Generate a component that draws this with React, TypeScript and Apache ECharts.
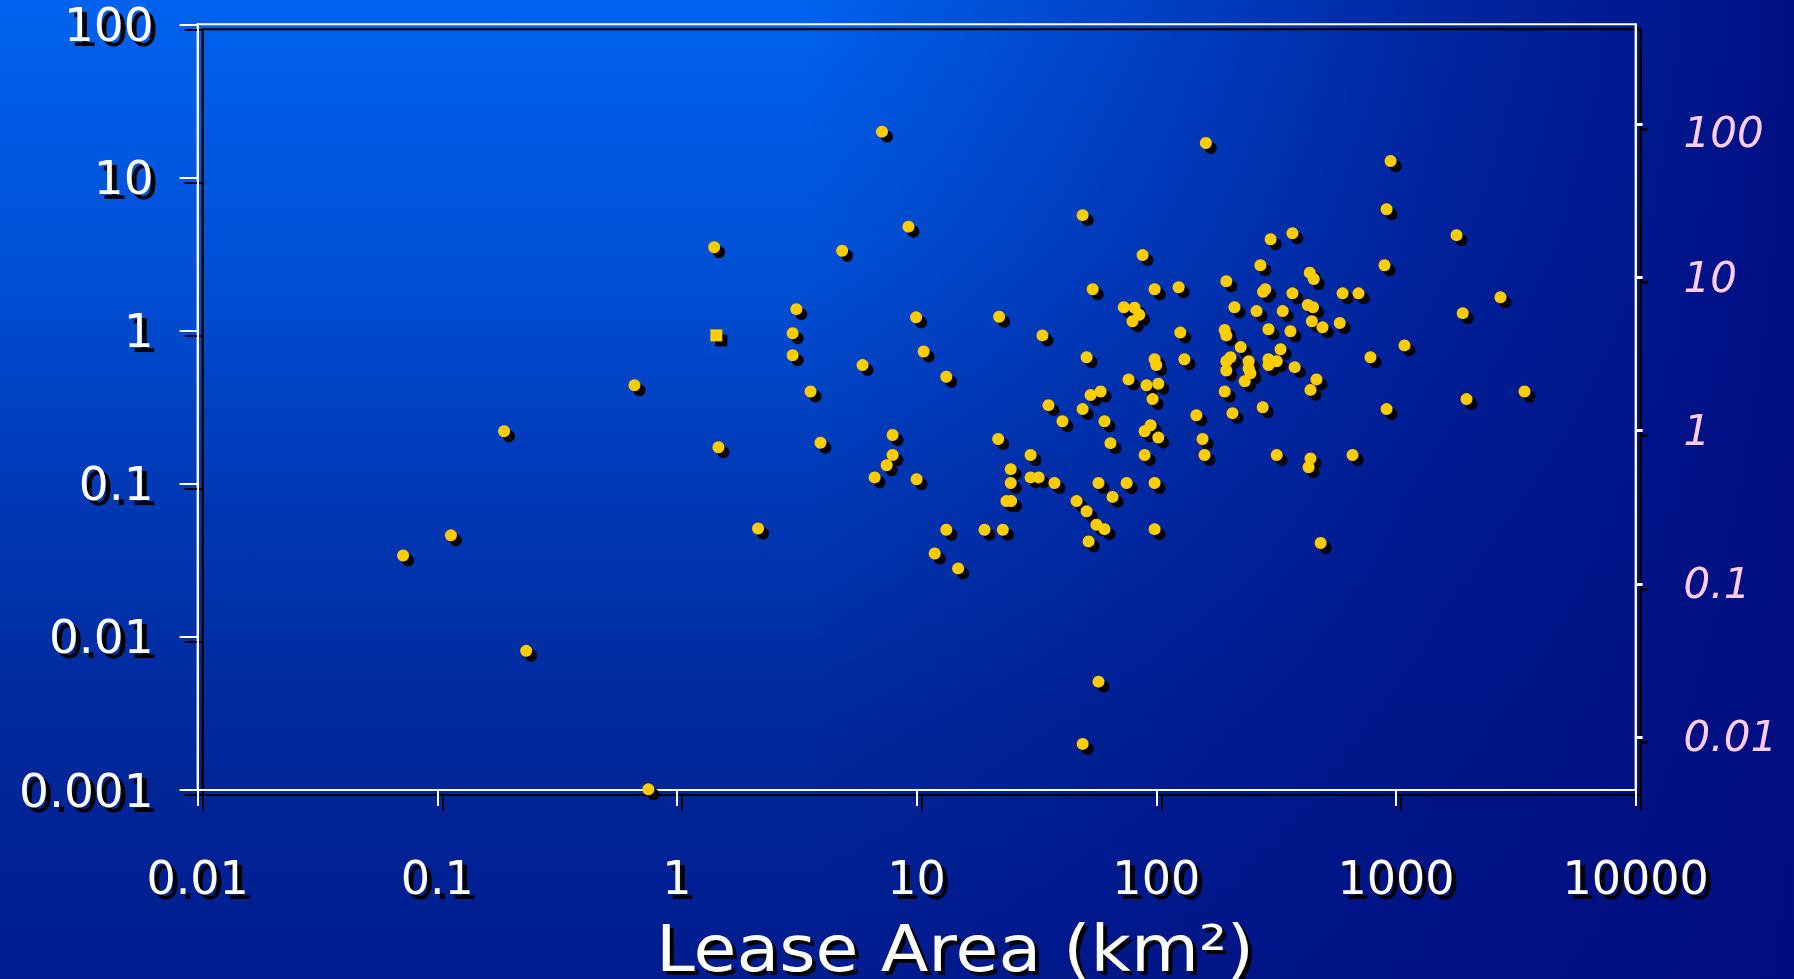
import React, { useEffect, useRef } from "react";
import * as echarts from "echarts";

// Lease area (km²) of each lease — x values
const leaseArea: number[] = [
  0.072, 0.114, 0.19, 0.235, 0.665, 0.76, 1.43, 1.49, 2.18, 3.15, 3.04, 3.04, 3.61, 3.97, 4.89, 5.95,
  6.68, 7.17, 7.5, 7.94, 7.94, 9.25, 9.95, 10.0, 10.7, 11.9, 13.3, 13.3, 14.9, 19.2, 22.1, 21.9, 22.9,
  950, 914, 49.3, 370, 300, 87.7, 272, 896, 437, 454, 196, 54.3, 98.4, 124, 285, 279, 370, 599, 698,
  212, 73.2, 81.2, 84.9, 79.6, 262, 337, 429, 451, 446, 494, 583, 33.5, 126, 193, 196, 294, 363, 225,
  330, 1086, 783, 51.2, 98.4, 100, 131, 196, 204, 196, 243, 243, 247, 234, 294, 294, 318, 378, 466,
  440, 76.6, 91.1, 102, 96.5, 53.2, 58.6, 193, 35.5, 49.3, 40.6, 60.8, 147, 208, 278, 914, 94.7, 89.4,
  102, 64.4, 156, 159, 89.4, 29.9, 318, 440, 432, 659, 24.7, 24.7, 29.9, 32.3, 37.6, 57.4, 75.2, 98.4,
  65.7, 23.7, 24.8, 46.5, 51.2, 56.3, 60.8, 98.4, 52.2, 485, 161, 57.4, 49.3,
  1790, 2730, 1900, 1970, 3440,
];

// Left-axis value of each lease — y values
const leftValue: number[] = [
  0.034, 0.046, 0.22, 0.0081, 0.44, 0.00101, 3.5, 0.173, 0.051, 1.38, 0.96, 0.69, 0.40, 0.185, 3.32, 0.595,
  0.110, 19.9, 0.132, 0.208, 0.154, 4.77, 1.22, 0.107, 0.73, 0.035, 0.50, 0.050, 0.028, 0.050, 1.23, 0.196, 0.050,
  12.8, 6.2, 5.67, 4.32, 3.95, 3.11, 2.67, 2.67, 2.39, 2.17, 2.10, 1.86, 1.86, 1.92, 1.86, 1.79, 1.75, 1.75, 1.75,
  1.42, 1.42, 1.41, 1.27, 1.15, 1.34, 1.34, 1.47, 1.42, 1.15, 1.05, 1.12, 0.93, 0.97, 1.01, 0.93, 1.02, 0.99, 0.78,
  0.756, 0.80, 0.67, 0.67, 0.65, 0.595, 0.65, 0.63, 0.67, 0.548, 0.63, 0.565, 0.527, 0.467, 0.65, 0.595, 0.63, 0.577, 0.48,
  0.41, 0.48, 0.44, 0.45, 0.357, 0.38, 0.40, 0.40, 0.326, 0.307, 0.256, 0.256, 0.28, 0.289, 0.316, 0.307, 0.241, 0.22,
  0.20, 0.184, 0.196, 0.154, 0.154, 0.154, 0.154, 0.146, 0.128, 0.154, 0.1245, 0.101, 0.110, 0.110, 0.101, 0.101, 0.101, 0.101,
  0.082, 0.077, 0.077, 0.077, 0.066, 0.054, 0.0505, 0.0505, 0.042, 0.041, 16.8, 0.0051, 0.0020,
  4.2, 1.65, 1.30, 0.357, 0.40,
];

// The single square marker
const squareArea: number[] = [1.46];
const squareValue: number[] = [0.93];

// Axis extents and tick labels
const xRange: number[] = [0.01, 10000];
const leftRange: number[] = [0.001, 100];
const rightRange: number[] = [0.0045, 450];
const rightTicks: number[] = [0.01, 0.1, 1, 10, 100];
const xTitle = "Lease Area (km²)";

const FONT = "'DejaVu Sans', Verdana, sans-serif";
const fmt = (v: number) => String(parseFloat(Number(v).toPrecision(6)));

export default function App() {
  const ref = useRef<HTMLDivElement>(null);

  useEffect(() => {
    if (!ref.current) return;
    const chart = echarts.init(ref.current, null, { renderer: "svg" });

    const pts = leaseArea.map((x, i) => [x, leftValue[i]]);
    const sq = squareArea.map((x, i) => [x, squareValue[i]]);

    const makeX = (gridIndex: number, color: string, z: number) => ({
      type: "log",
      gridIndex,
      min: xRange[0],
      max: xRange[1],
      z,
      axisLine: { show: true, lineStyle: { color, width: 2 } },
      axisTick: { show: true, length: 16, lineStyle: { color, width: 2 } },
      axisLabel: { color, fontSize: 46, fontFamily: FONT, margin: 65, formatter: fmt },
      splitLine: { show: false },
      minorTick: { show: false },
    });
    const makeLeft = (gridIndex: number, color: string, z: number) => ({
      type: "log",
      gridIndex,
      position: "left",
      min: leftRange[0],
      max: leftRange[1],
      z,
      axisLine: { show: true, lineStyle: { color, width: 2 } },
      axisTick: { show: true, length: 18, lineStyle: { color, width: 2 } },
      axisLabel: { color, fontSize: 47, fontFamily: FONT, margin: 44, formatter: fmt },
      splitLine: { show: false },
      minorTick: { show: false },
    });
    const rightLabelStyle = {
      color: "#FFCCEE",
      fontSize: 42,
      fontStyle: "italic",
      fontFamily: FONT,
      textShadowColor: "rgba(0,0,0,0.8)",
      textShadowOffsetX: 2,
      textShadowOffsetY: 2,
      textShadowBlur: 0,
    };
    const makeRight = (gridIndex: number, color: string, withLabels: boolean, z: number) => ({
      type: "log",
      gridIndex,
      position: "right",
      min: rightRange[0],
      max: rightRange[1],
      z,
      axisLine: { show: true, lineStyle: { color, width: 2 } },
      axisTick: { show: true, length: 7, customValues: rightTicks, lineStyle: { color, width: 3 } },
      axisLabel: withLabels
        ? {
            show: true,
            customValues: rightTicks,
            ...rightLabelStyle,
            margin: 48,
            formatter: (v: number) => (v >= 99 ? "{low|" + fmt(v) + "}" : fmt(v)),
            rich: { low: { ...rightLabelStyle, padding: [16, 0, 0, 0] } },
          }
        : { show: false },
      splitLine: { show: false },
      minorTick: { show: false },
    });

    const W = 1794;
    const H = 979;

    chart.setOption({
      animation: false,
      backgroundColor: "transparent",
      grid: [
        { left: 202.6, top: 29.3, right: 153.4, bottom: 184, show: true, borderColor: "#000", borderWidth: 2, backgroundColor: "transparent", outerBoundsMode: "none" },
        { left: 197.6, top: 24.3, right: 158.4, bottom: 189, show: true, borderColor: "#fff", borderWidth: 2, backgroundColor: "transparent", outerBoundsMode: "none" },
      ],
      xAxis: [makeX(0, "#000", 0), makeX(1, "#fff", 1)],
      yAxis: [
        makeLeft(0, "#000", 0),
        makeRight(0, "#000", false, 0),
        makeLeft(1, "#fff", 1),
        makeRight(1, "#fff", true, 1),
      ],
      graphic: [
        {
          type: "rect",
          z: -20,
          silent: true,
          shape: { x: 0, y: 0, width: W, height: H },
          style: {
            fill: {
              type: "linear", x: 0, y: 0, x2: 0, y2: 1,
              colorStops: [
                { offset: 0, color: "#0062EE" },
                { offset: 0.25, color: "#0052D8" },
                { offset: 0.5, color: "#0039B6" },
                { offset: 0.75, color: "#00289A" },
                { offset: 1, color: "#001C8E" },
              ],
            },
          },
        },
        {
          type: "rect",
          z: -19,
          silent: true,
          shape: { x: 0, y: 0, width: W, height: H },
          style: {
            fill: {
              type: "linear", x: 0, y: 0, x2: 1, y2: 0,
              colorStops: [
                { offset: 0, color: "rgba(0,13,128,0)" },
                { offset: 0.45, color: "rgba(0,13,128,0)" },
                { offset: 0.6, color: "rgba(0,13,128,0.3)" },
                { offset: 0.8, color: "rgba(0,13,128,0.7)" },
                { offset: 1, color: "rgba(0,13,128,0.97)" },
              ],
            },
          },
        },
        {
          type: "text",
          z: 5,
          x: 959,
          y: 953,
          scaleX: 1.09,
          style: {
            text: xTitle, fill: "#000", fontSize: 64, fontFamily: FONT,
            align: "center", verticalAlign: "middle", textAlign: "center", textVerticalAlign: "middle",
          },
        },
        {
          type: "text",
          z: 6,
          x: 955,
          y: 949,
          scaleX: 1.09,
          style: {
            text: xTitle, fill: "#fff", fontSize: 64, fontFamily: FONT,
            align: "center", verticalAlign: "middle", textAlign: "center", textVerticalAlign: "middle",
          },
        },
      ],
      series: [
        {
          type: "scatter", xAxisIndex: 1, yAxisIndex: 2, data: pts, symbol: "circle", symbolSize: 12,
          symbolOffset: [5, 5], itemStyle: { color: "#000", opacity: 1 }, z: 2, silent: true,
        },
        {
          type: "scatter", xAxisIndex: 1, yAxisIndex: 2, data: sq, symbol: "rect", symbolSize: 12,
          symbolOffset: [5, 5], itemStyle: { color: "#000", opacity: 1 }, z: 2, silent: true,
        },
        {
          type: "scatter", xAxisIndex: 1, yAxisIndex: 2, data: pts, symbol: "circle", symbolSize: 12,
          itemStyle: { color: "#FFCC00", opacity: 1 }, z: 3,
        },
        {
          type: "scatter", xAxisIndex: 1, yAxisIndex: 2, data: sq, symbol: "rect", symbolSize: 12,
          itemStyle: { color: "#FFCC00", opacity: 1 }, z: 3,
        },
      ],
    });

    return () => chart.dispose();
  }, []);

  return (
    <div
      ref={ref}
      style={{ position: "fixed", left: 0, top: 0, width: 1794, height: 979 }}
    />
  );
}
